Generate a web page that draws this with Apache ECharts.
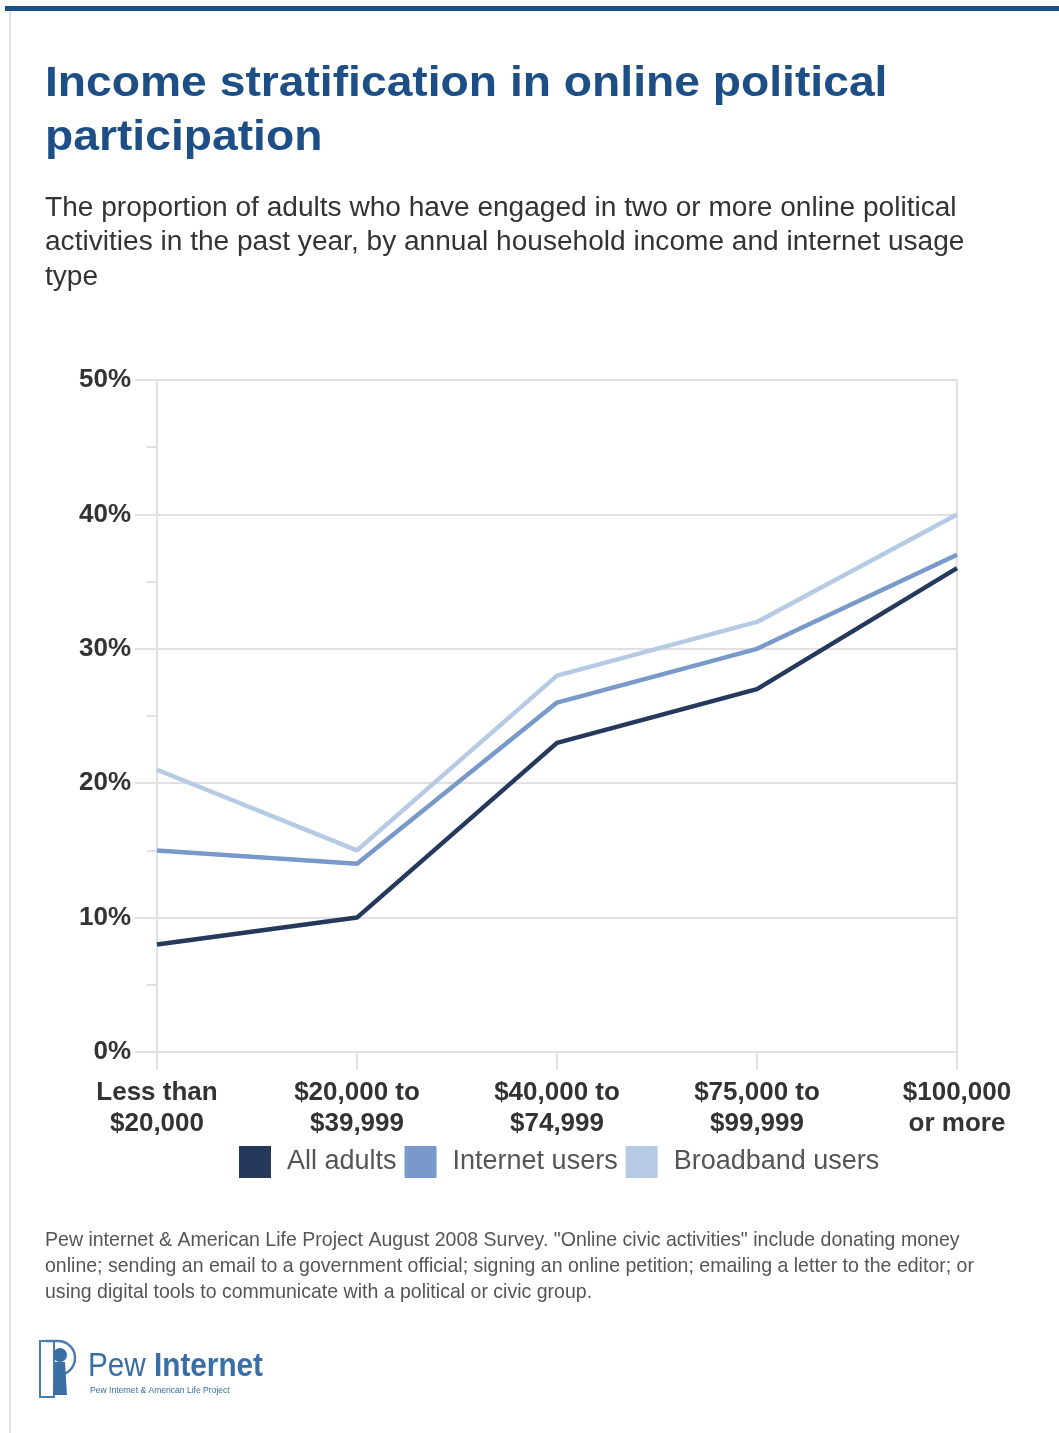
<!DOCTYPE html>
<html>
<head>
<meta charset="utf-8">
<script src="https://cdn.jsdelivr.net/npm/echarts@6/dist/echarts.min.js"></script>
<style>
html,body{margin:0;padding:0;background:#fff;}
#chart{width:1059px;height:1433px;}
</style>
</head>
<body>
<div id="chart"></div>
<script>
const categories = ['Less than\n$20,000', '$20,000 to\n$39,999', '$40,000 to\n$74,999', '$75,000 to\n$99,999', '$100,000\nor more'];
const allAdults = [8, 10, 23, 27, 36];
const internetUsers = [15, 14, 26, 30, 37];
const broadbandUsers = [21, 15, 28, 32, 40];
const seriesNames = ['All adults', 'Internet users', 'Broadband users'];
const yTicks = [0, 10, 20, 30, 40, 50];

const colors = ['#24395b', '#7899c9', '#b6cae4'];
const gridColor = '#e3dfe3';
const FONT = 'Liberation Sans, Arial, Helvetica, sans-serif';

const chart = echarts.init(document.getElementById('chart'));
const option = {
  backgroundColor: '#fff',
  animation: false,
  color: colors,
  grid: {left: 157, right: 102, top: 380, bottom: 381, containLabel: false},
  legend: {
    left: 234, top: 1141,
    itemWidth: 32, itemHeight: 32, itemGap: 8, icon: 'rect',
    textStyle: {fontFamily: FONT, fontSize: 27, color: '#555', padding: [0, 0, 0, 11]},
    data: seriesNames
  },
  xAxis: {
    type: 'category', boundaryGap: false, data: categories,
    axisLine: {lineStyle: {color: gridColor, width: 2}},
    axisTick: {show: true, length: 18, lineStyle: {color: gridColor, width: 2}},
    splitLine: {show: true, interval: function(i){ return i === 0 || i === categories.length - 1; }, lineStyle: {color: gridColor, width: 2}},
    axisLabel: {fontFamily: FONT, fontSize: 26, fontWeight: 'bold', color: '#333', lineHeight: 31, margin: 25}
  },
  yAxis: {
    type: 'value', min: yTicks[0], max: yTicks[yTicks.length-1], interval: 10,
    axisLine: {show: true, lineStyle: {color: gridColor, width: 2}},
    axisTick: {show: true, length: 22, lineStyle: {color: gridColor, width: 2}},
    minorTick: {show: true, splitNumber: 2, length: 10, lineStyle: {color: gridColor, width: 2}},
    splitLine: {show: true, lineStyle: {color: gridColor, width: 2}},
    axisLabel: {formatter: '{value}%', fontFamily: FONT, fontSize: 26, fontWeight: 'bold', color: '#333', margin: 26}
  },
  series: [
    {name: seriesNames[0], type: 'line', data: allAdults, symbol: 'none', lineStyle: {width: 4.5, color: colors[0]}, z: 5},
    {name: seriesNames[1], type: 'line', data: internetUsers, symbol: 'none', lineStyle: {width: 4.5, color: colors[1]}, z: 4},
    {name: seriesNames[2], type: 'line', data: broadbandUsers, symbol: 'none', lineStyle: {width: 4.5, color: colors[2]}, z: 3}
  ],
  graphic: [
    {type: 'rect', shape: {x: 5, y: 6, width: 1054, height: 5}, style: {fill: '#1d4f86'}},
    {type: 'rect', shape: {x: 9, y: 11, width: 2, height: 1422}, style: {fill: '#e2e2e2'}},
    {type: 'text', x: 45, y: 57, scaleX: 1.075, style: {text: 'Income stratification in online political\nparticipation', fontFamily: FONT, fontSize: 43, fontWeight: 'bold', fill: '#1d4f86', lineHeight: 54}},
    {type: 'text', x: 45, y: 191, scaleX: 1.04, style: {text: 'The proportion of adults who have engaged in two or more online political\nactivities in the past year, by annual household income and internet usage\ntype', fontFamily: FONT, fontSize: 27, fill: '#333', lineHeight: 34.5}},
    {type: 'text', x: 45, y: 1227, scaleX: 0.93, style: {text: 'Pew internet & American Life Project August 2008 Survey. "Online civic activities" include donating money\nonline; sending an email to a government official; signing an online petition; emailing a letter to the editor; or\nusing digital tools to communicate with a political or civic group.', fontFamily: FONT, fontSize: 21, fill: '#555', lineHeight: 26}},
    // logo
    {type: 'rect', shape: {x: 40, y: 1341, width: 14, height: 56}, style: {fill: 'none', stroke: '#4a7bb3', lineWidth: 2}},
    {type: 'arc', shape: {cx: 58, cy: 1358, r: 17, startAngle: -Math.PI / 2, endAngle: Math.PI / 2}, style: {fill: 'none', stroke: '#4a7bb3', lineWidth: 2.5}},
    {type: 'line', shape: {x1: 46, y1: 1341, x2: 58, y2: 1341}, style: {stroke: '#4a7bb3', lineWidth: 2.5}},
    {type: 'circle', shape: {cx: 60, cy: 1355, r: 7}, style: {fill: '#3a6ea5'}},
    {type: 'polygon', shape: {points: [[55,1362],[65,1362],[67,1395],[53,1395]]}, style: {fill: '#3a6ea5'}},
    {type: 'text', x: 88, y: 1350, scaleX: 0.9, style: {rich: {a: {fontFamily: FONT, fontSize: 33, fill: '#3a6ea5'}, b: {fontFamily: FONT, fontSize: 33, fontWeight: 'bold', fill: '#3a6ea5'}}, text: '{a|Pew }{b|Internet}'}},
    {type: 'text', x: 90, y: 1385, scaleX: 0.9, style: {text: 'Pew Internet & American Life Project', fontFamily: FONT, fontSize: 9.5, fill: '#3a6ea5'}}
  ]
};
chart.setOption(option);
</script>
</body>
</html>
